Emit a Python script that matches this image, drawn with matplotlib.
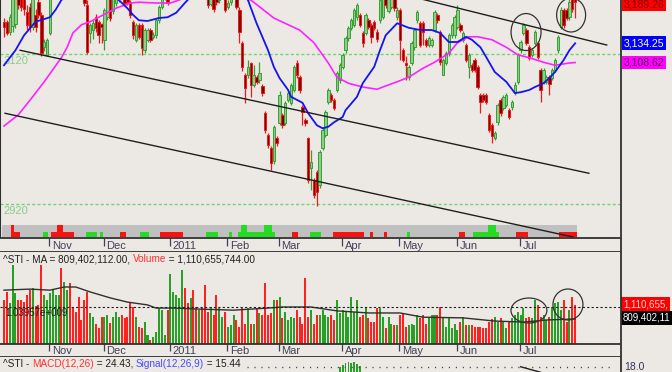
import matplotlib
matplotlib.use('Agg')
import matplotlib.pyplot as plt
from matplotlib.patches import Ellipse
from matplotlib.lines import Line2D
import numpy as np

# ---- daily STI candles (index 0 = mid Oct 2010, 199 = end Jul 2011) ----
opens = [3163, 3163, 3150, 3158, 3160, 3210, 3205, 3195, 3176, 3183,
         3156, 3172, 3190, 3172, 3129, 3119, 3148, 3205, 3228, 3252,
         3272, 3258, 3282, 3292, 3276, 3258, 3238, 3224, 3200, 3185,
         3148, 3152, 3170, 3163, 3160, 3139, 3170, 3195, 3178, 3188,
         3195, 3215, 3200, 3205, 3188, 3163, 3139, 3159, 3159, 3125,
         3139, 3152, 3143, 3145, 3165, 3183, 3195, 3205, 3210, 3215,
         3232, 3252, 3262, 3270, 3254, 3240, 3250, 3236, 3224, 3230,
         3214, 3200, 3187, 3195, 3200, 3192, 3206, 3195, 3183, 3190,
         3202, 3200, 3179, 3135, 3092, 3092, 3108, 3079, 3089, 3085,
         3077, 3041, 3012, 2995, 2977, 3008, 3028, 3039, 3028, 3059,
         3055, 3072, 3108, 3089, 3049, 3032, 3008, 2968, 2952, 2963,
         2945, 2995, 3012, 3056, 3065, 3059, 3072, 3085, 3103, 3125,
         3141, 3155, 3159, 3169, 3172, 3148, 3148, 3165, 3159, 3163,
         3150, 3165, 3170, 3200, 3178, 3183, 3195, 3169, 3179, 3125,
         3108, 3089, 3108, 3129, 3165, 3161, 3161, 3139, 3132, 3132,
         3152, 3172, 3149, 3092, 3108, 3121, 3145, 3145, 3156, 3159,
         3139, 3132, 3103, 3105, 3112, 3103, 3065, 3065, 3065, 3039,
         3025, 3008, 3029, 3059, 3048, 3052, 3045, 3049, 3068, 3083,
         3125, 3148, 3152, 3129, 3119, 3135, 3135, 3099, 3083, 3083,
         3089, 3088, 3099, 3125, 3156, 3179, 3179, 3169, 3197, 3200]
closes = [3156, 3148, 3170, 3198, 3202, 3185, 3183, 3180, 3159, 3156,
          3196, 3156, 3172, 3121, 3136, 3139, 3198, 3230, 3250, 3270,
          3260, 3280, 3290, 3275, 3260, 3240, 3225, 3210, 3188, 3123,
          3159, 3162, 3155, 3145, 3156, 3179, 3198, 3168, 3195, 3200,
          3210, 3200, 3188, 3190, 3172, 3145, 3159, 3143, 3128, 3152,
          3152, 3139, 3146, 3165, 3183, 3200, 3210, 3188, 3215, 3230,
          3250, 3260, 3270, 3255, 3240, 3250, 3235, 3225, 3230, 3215,
          3205, 3185, 3198, 3180, 3190, 3205, 3212, 3179, 3188, 3200,
          3205, 3183, 3149, 3103, 3075, 3103, 3079, 3092, 3083, 3095,
          3068, 3019, 2999, 2975, 3023, 3001, 3065, 3025, 3055, 3068,
          3079, 3103, 3092, 3072, 3043, 3028, 2952, 2976, 2932, 2936,
          2989, 3019, 3043, 3072, 3059, 3048, 3095, 3105, 3119, 3141,
          3155, 3165, 3179, 3185, 3159, 3135, 3172, 3156, 3143, 3155,
          3140, 3192, 3195, 3185, 3198, 3195, 3181, 3179, 3139, 3112,
          3105, 3103, 3135, 3152, 3176, 3132, 3149, 3132, 3141, 3139,
          3176, 3165, 3109, 3112, 3121, 3145, 3159, 3169, 3179, 3152,
          3148, 3112, 3119, 3099, 3099, 3076, 3056, 3059, 3056, 3019,
          3011, 3015, 3052, 3041, 3063, 3065, 3036, 3056, 3079, 3119,
          3136, 3159, 3135, 3115, 3125, 3149, 3116, 3072, 3099, 3089,
          3080, 3099, 3112, 3143, 3179, 3159, 3168, 3190, 3180, 3189.26]
highs = [3168, 3166, 3174, 3205, 3208, 3214, 3210, 3200, 3185, 3188,
         3200, 3180, 3195, 3176, 3140, 3142, 3205, 3236, 3256, 3278,
         3280, 3286, 3298, 3296, 3280, 3262, 3242, 3228, 3204, 3192,
         3162, 3166, 3174, 3166, 3162, 3182, 3204, 3198, 3200, 3206,
         3214, 3218, 3204, 3208, 3192, 3166, 3162, 3162, 3162, 3155,
         3155, 3155, 3149, 3168, 3186, 3205, 3215, 3208, 3220, 3235,
         3255, 3265, 3276, 3274, 3258, 3255, 3254, 3240, 3235, 3233,
         3218, 3204, 3202, 3198, 3204, 3210, 3216, 3198, 3192, 3205,
         3210, 3204, 3183, 3138, 3095, 3112, 3110, 3105, 3092, 3109,
         3080, 3044, 3015, 2998, 3026, 3011, 3071, 3042, 3058, 3072,
         3082, 3106, 3112, 3092, 3052, 3035, 3010, 2992, 2955, 2966,
         2992, 3022, 3046, 3075, 3068, 3062, 3098, 3108, 3122, 3144,
         3158, 3168, 3182, 3188, 3175, 3151, 3175, 3168, 3162, 3166,
         3153, 3196, 3199, 3204, 3202, 3199, 3198, 3183, 3182, 3128,
         3117, 3106, 3138, 3155, 3179, 3164, 3164, 3142, 3144, 3142,
         3179, 3175, 3152, 3115, 3124, 3148, 3162, 3172, 3185, 3162,
         3151, 3135, 3122, 3108, 3115, 3106, 3068, 3068, 3068, 3042,
         3028, 3018, 3055, 3062, 3066, 3068, 3048, 3059, 3083, 3122,
         3139, 3162, 3155, 3132, 3128, 3152, 3138, 3102, 3102, 3092,
         3092, 3102, 3115, 3146, 3183, 3182, 3182, 3194, 3200, 3204]
lows = [3143, 3145, 3146, 3150, 3155, 3180, 3178, 3172, 3152, 3150,
        3152, 3150, 3168, 3118, 3124, 3117, 3145, 3200, 3222, 3248,
        3252, 3254, 3275, 3268, 3252, 3232, 3218, 3202, 3184, 3120,
        3135, 3140, 3150, 3135, 3135, 3125, 3166, 3164, 3174, 3184,
        3190, 3196, 3184, 3186, 3168, 3140, 3136, 3140, 3119, 3122,
        3136, 3136, 3140, 3142, 3162, 3180, 3192, 3185, 3205, 3210,
        3228, 3245, 3255, 3250, 3235, 3236, 3230, 3220, 3218, 3210,
        3198, 3182, 3184, 3176, 3186, 3188, 3200, 3176, 3180, 3186,
        3196, 3180, 3135, 3097, 3055, 3088, 3063, 3076, 3080, 3082,
        3064, 3015, 2995, 2965, 2974, 2997, 3025, 3022, 3025, 3056,
        3052, 3069, 3088, 3068, 3025, 3024, 2948, 2939, 2928, 2918,
        2942, 2992, 3009, 3053, 3056, 3045, 3069, 3082, 3100, 3122,
        3138, 3152, 3156, 3166, 3156, 3129, 3145, 3153, 3135, 3152,
        3136, 3162, 3167, 3182, 3175, 3180, 3178, 3166, 3112, 3109,
        3085, 3086, 3105, 3126, 3162, 3129, 3132, 3129, 3129, 3129,
        3149, 3162, 3106, 3092, 3105, 3118, 3142, 3142, 3153, 3149,
        3136, 3109, 3088, 3096, 3096, 3073, 3041, 3056, 3053, 3016,
        3001, 3005, 3026, 3038, 3045, 3049, 3034, 3046, 3065, 3080,
        3122, 3145, 3132, 3112, 3116, 3132, 3113, 3056, 3080, 3080,
        3065, 3085, 3096, 3122, 3153, 3155, 3165, 3166, 3176, 3168]

# daily volume, millions of shares
volumes = [1240, 1480, 1150, 2240, 1430, 1240, 1240, 1190, 1380, 1520,
           1570, 1070, 1100, 2240, 1380, 1240, 1430, 1520, 1380, 1380,
           2140, 1760, 1520, 1710, 1050, 910, 1330, 670, 1240, 1480,
           860, 760, 570, 430, 760, 760, 810, 590, 760, 910,
           760, 810, 720, 760, 1190, 1050, 760, 480, 430, 620,
           240, 100, 190, 340, 1000, 950, 240, 950, 1980, 1480,
           1380, 1290, 2090, 1570, 1150, 1290, 1520, 1050, 950, 1000,
           1670, 910, 1050, 810, 1380, 1000, 760, 910, 480, 530,
           810, 670, 480, 1000, 570, 1000, 570, 570, 1000, 860,
           810, 1710, 810, 860, 1240, 1240, 1330, 720, 910, 670,
           760, 720, 950, 760, 570, 1860, 760, 950, 570, 810,
           810, 950, 810, 760, 810, 670, 1240, 860, 950, 910,
           760, 1330, 910, 1240, 760, 810, 1050, 720, 620, 620,
           1000, 1000, 760, 430, 760, 570, 530, 530, 810, 860,
           480, 530, 570, 530, 810, 720, 810, 570, 760, 810,
           810, 810, 1050, 720, 480, 720, 430, 570, 380, 620,
           760, 530, 530, 530, 480, 480, 480, 430, 430, 620,
           690, 760, 620, 720, 620, 430, 620, 720, 810, 910,
           810, 1000, 720, 760, 720, 1240, 1100, 760, 810, 670,
           760, 1050, 1150, 1190, 950, 1240, 620, 950, 1330, 1110.66]

# moving averages (day index -> value)
ma20_idx = [0, 4, 7, 11, 16, 18, 20, 25, 30, 35, 38, 40, 43, 45, 47, 50, 54,
            57, 60, 63, 64, 68, 74, 80, 85, 88, 92, 94, 96, 99, 100, 104, 106,
            109, 111, 113, 115, 118, 119, 123, 125, 129, 131, 133, 137, 141,
            145, 149, 152, 155, 158, 161, 163, 166, 168, 171, 175, 178, 180,
            183, 185, 188, 190, 192, 195, 197, 199]
ma20_val = [3105, 3125, 3145, 3163, 3169, 3179, 3192, 3205, 3215, 3210, 3198,
            3192, 3181, 3172, 3165, 3164, 3168, 3169, 3175, 3188, 3192, 3210,
            3220, 3210, 3192, 3161, 3125, 3103, 3088, 3072, 3063, 3055, 3041,
            3025, 3021, 3023, 3029, 3036, 3045, 3063, 3081, 3103, 3125, 3145,
            3161, 3155, 3152, 3152, 3148, 3136, 3136, 3143, 3139, 3129, 3116,
            3096, 3083, 3068, 3069, 3072, 3076, 3081, 3088, 3096, 3112, 3125,
            3134.25]
ma50_idx = [0, 5, 10, 14, 17, 20, 22, 24, 27, 30, 33, 39, 44, 47, 53, 58, 61,
            66, 72, 78, 86, 89, 94, 99, 103, 108, 113, 116, 120, 125, 130, 132,
            137, 141, 146, 150, 155, 158, 162, 165, 170, 175, 179, 183, 188,
            192, 197, 199]
ma50_val = [3024, 3039, 3063, 3083, 3099, 3115, 3129, 3148, 3159, 3163, 3169,
            3181, 3188, 3189, 3188, 3188, 3192, 3200, 3205, 3200, 3192, 3183,
            3168, 3159, 3152, 3135, 3108, 3089, 3081, 3076, 3073, 3076, 3083,
            3089, 3101, 3109, 3121, 3135, 3143, 3143, 3139, 3129, 3119, 3115,
            3109, 3105, 3108, 3108.62]
vol_ma_idx = [0, 9, 16, 21, 25, 30, 37, 43, 50, 53, 59, 68, 80, 92, 97, 107,
              116, 127, 138, 146, 160, 171, 181, 189, 199]
vol_ma_val = [1520, 1550, 1520, 1610, 1610, 1470, 1300, 1180, 1100, 1010, 1010,
              980, 950, 1010, 1040, 1040, 930, 870, 870, 750, 730, 640, 610,
              670, 700]

# channel lines (day index, price)
chan_upper = ([5.6, 203.8], [3125, 2961])
chan_lower = ([0.35, 198.3], [3041, 2876])
chan_top = ([130, 210], [3208, 3132])

# signal strip: start day, end day, level (1 low / 2 full), direction
sig_start = [3, 4, 14, 17, 19, 29, 34, 41, 48, 55, 71, 79, 82, 83, 87, 91,
             101, 107, 115, 128, 133, 141, 159, 164, 169, 179, 194]
sig_end = [3, 5, 15, 24, 20, 32, 34, 42, 50, 62, 74, 79, 86, 84, 94, 93,
           102, 110, 125, 128, 133, 141, 160, 172, 171, 182, 199]
sig_level = [2, 1, 1, 1, 2, 1, 1, 1, 1, 1, 1, 1, 1, 2, 1, 2,
             1, 1, 1, 1, 1, 1, 1, 1, 2, 1, 1]
sig_up = [0, 0, 1, 0, 0, 1, 1, 0, 1, 0, 1, 1, 1, 1, 1, 1,
          0, 1, 0, 0, 0, 1, 0, 1, 1, 0, 0]

# MACD pane: only the top of the pane is in view
macd_idx = [117, 118, 119, 120, 121, 122, 123, 124]
macd_hist = [18.3, 19.6, 20.6, 21.3, 21.0, 21.6, 20.3, 18.6]
macd_line_idx = [180, 187]
macd_line_val = [18.2, 14.5]

months = ['Nov', 'Dec', '2011', 'Feb', 'Mar', 'Apr', 'May', 'Jun', 'Jul']
month_idx = [16, 35, 58, 78, 96, 118, 138, 158, 180]

W, H = 672, 372
BG = '#ECE9E4'
PX = 2.87          # pixels per trading day
XMIN, XMAX = -4 / PX, 616 / PX

plt.rcParams['font.family'] = ['Liberation Sans', 'DejaVu Sans']
plt.rcParams['lines.scale_dashes'] = False

fig = plt.figure(figsize=(W / 100, H / 100), dpi=100, facecolor=BG)


def pane(top, bottom):
    ax = fig.add_axes([0, 1 - bottom / H, 620 / W, (bottom - top) / H])
    ax.set_facecolor(BG)
    ax.set_xlim(XMIN, XMAX)
    ax.set_xticks([])
    ax.set_yticks([])
    for sp in ax.spines.values():
        sp.set_visible(False)
    return ax


ax_p = pane(0, 238)
ax_m1 = pane(238, 252)
ax_v = pane(252, 344)
ax_m2 = pane(344, 357)
ax_mc = pane(357, 372)

idx = np.arange(len(closes))
o = np.array(opens, float)
c = np.array(closes, float)
up = c >= o

# ---- price pane ----
ax_p.set_ylim(2874.7, 3192)
ax_p.spines['left'].set_visible(True)
ax_p.spines['left'].set_color('#303030')
ax_p.spines['left'].set_linewidth(1.5)

for lvl in (3120, 2920):
    ax_p.axhline(lvl, color='#6ED66E', ls=(0, (2.2, 1.6)), lw=1, zorder=1)
    ax_p.text(0.006, lvl - 9.5, str(lvl), transform=ax_p.get_yaxis_transform(),
              color='#8CCB8C', fontsize=8, va='center', ha='left')

# signal strip at the bottom of the pane
xt = ax_p.get_xaxis_transform()
ax_p.broken_barh([(-0.6, 200.4)], (0.0042, 0.0504), transform=xt,
                 facecolor='#C0C0C0', zorder=1)
for s, e, lv, u in zip(sig_start, sig_end, sig_level, sig_up):
    top = 0.0546 if lv == 2 else 0.0252
    ax_p.broken_barh([(s - 0.5, e - s + 1)], (0.0042, top - 0.0042),
                     transform=xt, facecolor='#22DD22' if u else '#FF1010',
                     zorder=1.5)

wick_col = np.where(up, '#35A035', '#F01818')
ax_p.vlines(idx, lows, highs, colors=wick_col, lw=0.9, zorder=3)
body_lo = np.minimum(o, c)
body_h = np.maximum(np.abs(c - o), 0.9)
ax_p.bar(idx, body_h, bottom=body_lo, width=0.85,
         color=np.where(up, '#8FCC88', '#7A0000'),
         edgecolor=np.where(up, '#35A035', '#F01818'), linewidth=0.7, zorder=4)

ax_p.plot(ma50_idx, ma50_val, color='#FF22FF', lw=1.2, zorder=5)
ax_p.plot(ma20_idx, ma20_val, color='#1414F0', lw=1.3, zorder=5)
for xs, ys in (chan_upper, chan_lower, chan_top):
    ax_p.plot(xs, ys, color='#1E1E1E', lw=1.0, zorder=6)

ax_p.add_patch(Ellipse((181.9, 3149.3), 10.45, 49.3, fc='none', ec='#333333',
                       lw=0.9, zorder=7))
ax_p.add_patch(Ellipse((197.6, 3172.0), 10.1, 45.3, fc='none', ec='#333333',
                       lw=0.9, zorder=7))

yt = ax_p.get_yaxis_transform()
for val, txt, fc, tc in ((3186.0, '3,189.26', '#FF0000', '#7A0000'),
                         (3134.25, '3,134.25', '#0000FF', 'white'),
                         (3108.62, '3,108.62', '#FF00FF', '#5A005A')):
    ax_p.text(1.006, val, txt, transform=yt, clip_on=False, fontsize=7.5,
              va='center', ha='left', color=tc,
              bbox=dict(boxstyle='square,pad=0.18', fc=fc, ec='none'))

# ---- month strips ----
for ax in (ax_m1, ax_m2):
    ax.set_ylim(0, 1)
    for side in ('top', 'bottom'):
        ax.spines[side].set_visible(True)
        ax.spines[side].set_color('#303030')
        ax.spines[side].set_linewidth(1.3)
    mpos = np.array(month_idx) - 0.3
    ax.vlines(mpos, 0.45, 1, color='#404058', lw=0.9)
    for p, m in zip(mpos, months):
        ax.text(p + 0.95, 0.45, m, color='#404058', fontsize=8,
                va='center', ha='left')

# ---- volume pane ----
vol = np.array(volumes) * 1e6
ax_v.set_ylim(-0.014e9, 2.607e9)
ax_v.bar(idx, vol, width=0.7, color=np.where(up, '#28A028', '#FF2020'),
         zorder=2)
ax_v.plot(vol_ma_idx, np.array(vol_ma_val) * 1e6, color='#303030', lw=1.0,
          zorder=3)
ax_v.axhline(1.03957e9, color='#202020', lw=0.8, ls=(0, (1.6, 1.6)), zorder=3)
ax_v.text(0.008, 0.86e9, '1.03957e+009', transform=ax_v.get_yaxis_transform(),
          fontsize=7, color='#202020', va='center', zorder=4)
ax_v.add_patch(Ellipse((182.9, 0.94e9), 12.5, 0.712e9, fc='none',
                       ec='#333333', lw=0.9, zorder=4))
ax_v.add_patch(Ellipse((196.5, 1.111e9), 10.45, 0.883e9, fc='none',
                       ec='#333333', lw=0.9, zorder=4))
vt = ax_v.get_yaxis_transform()
ax_v.text(1.005, 1.125e9, '1,110,655,', transform=vt, clip_on=False,
          fontsize=7, va='center', color='#FFD8D8',
          bbox=dict(boxstyle='square,pad=0.18', fc='#FF0000', ec='none'))
ax_v.text(1.005, 0.727e9, '809,402,11', transform=vt, clip_on=False,
          fontsize=7, va='center', color='white',
          bbox=dict(boxstyle='square,pad=0.18', fc='#000000', ec='none'))

# ---- MACD pane ----
ax_mc.set_ylim(14.7, 24.7)
ax_mc.bar(macd_idx, macd_hist, width=0.6, color='#28A028')
ax_mc.plot(macd_line_idx, macd_line_val, color='#202020', lw=1.0)
ax_mc.plot([84.7, 211.8], [18.0, 18.0], color='#404040', lw=1.0,
           ls=(0, (0.8, 4.2)))
ax_mc.text(1.006, 18.0, '18.0', transform=ax_mc.get_yaxis_transform(),
           clip_on=False, fontsize=7.5, va='center', color='#33335A')

# ---- multi-coloured pane titles ----
renderer = fig.canvas.get_renderer()


def title_line(x_px, y_px, parts):
    x = x_px
    for s, col in parts:
        t = fig.text(x / W, 1 - y_px / H, s, color=col, fontsize=7.2,
                     va='center', ha='left')
        x += t.get_window_extent(renderer).width


title_line(3, 259, [('^STI - MA = 809,402,112.00, ', '#202020'),
                    ('Volume', '#FF3030'),
                    (' = 1,110,655,744.00', '#202020')])
title_line(3, 364, [('^STI - ', '#202020'), ('MACD(12,26)', '#FF3030'),
                    (' = 24.43, ', '#202020'), ('Signal(12,26,9)', '#4848FF'),
                    (' = 15.44', '#202020')])

fig.add_artist(Line2D([620.5 / W] * 2, [0, 1], transform=fig.transFigure,
                      color='#303030', lw=1.3))

fig.savefig('out.png', dpi=100, facecolor=BG)
